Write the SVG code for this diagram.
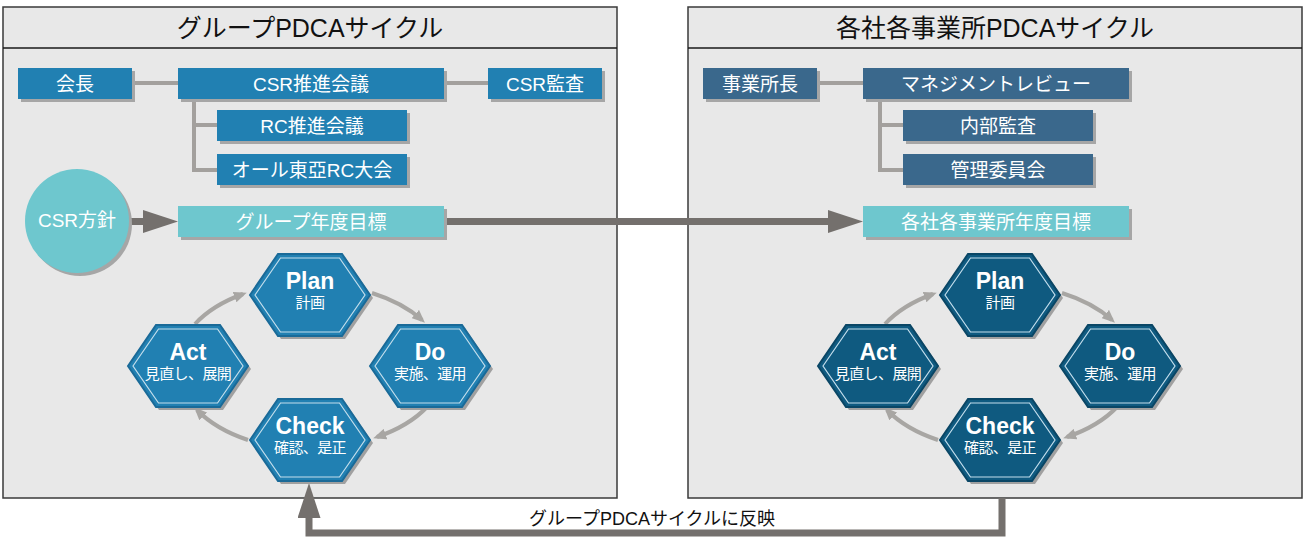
<svg xmlns="http://www.w3.org/2000/svg" xmlns:xlink="http://www.w3.org/1999/xlink" width="1304" height="537" viewBox="0 0 1304 537">
  <style>
    .panel { fill: #e8e8e8; stroke: #3a3a3a; stroke-width: 1.5; }
    .rule { stroke: #1a1a1a; stroke-width: 1.5; }
    .title { font-family: "Liberation Sans", "Noto Sans CJK JP", sans-serif; font-size: 25px; fill: #111; text-anchor: middle; }
    .shadow { fill: #a6a6a6; }
    .boxL { fill: #2180b2; }
    .boxR { fill: #3a688c; }
    .boxT { fill: #6ec7ce; }
    .label { font-family: "Liberation Sans", "Noto Sans CJK JP", sans-serif; font-size: 19px; fill: #fff; text-anchor: middle; }
    .org { stroke: #a3a09d; stroke-width: 4; fill: none; }
    .thick { stroke: #74706d; stroke-width: 7; fill: none; }
    .cycle { stroke: #a8a6a3; stroke-width: 4; fill: none; }
    .hexL { fill: #2180b2; stroke: #1a6a98; stroke-width: 2; }
    .hexR { fill: #0f5a80; stroke: #0a4665; stroke-width: 2; }
    .hexShadow { fill: #a0a0a0; }
    .hexLine { fill: none; stroke: #c4deec; stroke-width: 1.2; }
    .hexTitle { font-family: "Liberation Sans", "Noto Sans CJK JP", sans-serif; font-weight: bold; font-size: 23px; fill: #fff; text-anchor: middle; }
    .hexSub { font-family: "Liberation Sans", "Noto Sans CJK JP", sans-serif; font-size: 15px; letter-spacing: -0.6px; fill: #fff; text-anchor: middle; }
    .note { font-family: "Liberation Sans", "Noto Sans CJK JP", sans-serif; font-size: 18px; fill: #111; text-anchor: middle; }
  </style>
  <defs>
    <marker id="headThick" markerUnits="userSpaceOnUse" markerWidth="35" markerHeight="23" refX="5" refY="11.5" orient="auto">
      <path d="M0,0 L35,11.5 L0,23 z" fill="#74706d"/>
    </marker>
    <marker id="headCycle" markerUnits="userSpaceOnUse" markerWidth="13" markerHeight="11" refX="9" refY="5.5" orient="auto">
      <path d="M0,0 L13,5.5 L0,11 z" fill="#a8a6a3"/>
    </marker>
    <polygon id="hexShape" points="-60,0 -32,-41 32,-41 60,0 32,41 -32,41"/>
    <polygon id="hexInner" points="-55,0 -29.5,-37 29.5,-37 55,0 29.5,37 -29.5,37"/>
  </defs>

  <!-- panels -->
  <g id="panel-group">
    <rect class="panel" x="3" y="7" width="614" height="491"/>
    <line class="rule" x1="3" y1="48" x2="617" y2="48"/>
    <text class="title" x="310" y="37">グループPDCAサイクル</text>
  </g>
  <g id="panel-site">
    <rect class="panel" x="688" y="7" width="614" height="491"/>
    <line class="rule" x1="688" y1="48" x2="1302" y2="48"/>
    <text class="title" x="995" y="37">各社各事業所PDCAサイクル</text>
  </g>

  <!-- connectors -->
  <g id="connectors">
    <path class="org" d="M132,83 H178 M444,83 H488 M194,99 V170 H217 M194,125 H217"/>
    <path class="org" d="M817,83 H863 M880,99 V170 H903 M880,125 H903"/>
    <path class="thick" d="M129,221.5 H148" marker-end="url(#headThick)"/>
    <path class="thick" d="M444,221.5 H833" marker-end="url(#headThick)"/>
    <path class="thick" stroke-linejoin="miter" d="M1002,498 V533 H309 V513" marker-end="url(#headThick)"/>
    <path class="cycle" d="M195,324 A135,81 0 0 1 243,294" marker-end="url(#headCycle)"/>
    <path class="cycle" d="M372,293 A135,81 0 0 1 422,320" marker-end="url(#headCycle)"/>
    <path class="cycle" d="M427,407 A135,81 0 0 1 377,437" marker-end="url(#headCycle)"/>
    <path class="cycle" d="M248,440 A135,81 0 0 1 197,410" marker-end="url(#headCycle)"/>
    <path class="cycle" d="M885,324 A135,81 0 0 1 933,294" marker-end="url(#headCycle)"/>
    <path class="cycle" d="M1062,293 A135,81 0 0 1 1112,320" marker-end="url(#headCycle)"/>
    <path class="cycle" d="M1117,407 A135,81 0 0 1 1067,437" marker-end="url(#headCycle)"/>
    <path class="cycle" d="M938,440 A135,81 0 0 1 887,410" marker-end="url(#headCycle)"/>
  </g>
  <text class="note" x="652" y="525">グループPDCAサイクルに反映</text>

  <!-- group organisation -->
  <g id="chairman">
    <rect class="shadow" x="21" y="71" width="114" height="31"/>
    <rect class="boxL" x="18" y="68" width="114" height="31"/>
    <text class="label" x="75" y="90.5">会長</text>
  </g>
  <g id="csr-council">
    <rect class="shadow" x="181" y="71" width="266" height="31"/>
    <rect class="boxL" x="178" y="68" width="266" height="31"/>
    <text class="label" x="311" y="90.5">CSR推進会議</text>
  </g>
  <g id="csr-audit">
    <rect class="shadow" x="491" y="71" width="114" height="31"/>
    <rect class="boxL" x="488" y="68" width="114" height="31"/>
    <text class="label" x="545" y="90.5">CSR監査</text>
  </g>
  <g id="rc-council">
    <rect class="shadow" x="220" y="113" width="190" height="31"/>
    <rect class="boxL" x="217" y="110" width="190" height="31"/>
    <text class="label" x="312" y="132.5">RC推進会議</text>
  </g>
  <g id="rc-convention">
    <rect class="shadow" x="220" y="157" width="190" height="31"/>
    <rect class="boxL" x="217" y="154" width="190" height="31"/>
    <text class="label" x="312" y="176.5">オール東亞RC大会</text>
  </g>
  <g id="csr-policy">
    <circle cx="80" cy="224" r="52" class="shadow"/>
    <circle cx="77" cy="221" r="52" fill="#6ec7ce"/>
    <text class="label" x="77" y="227">CSR方針</text>
  </g>
  <g id="group-target">
    <rect class="shadow" x="181" y="209" width="266" height="31"/>
    <rect class="boxT" x="178" y="206" width="266" height="31"/>
    <text class="label" x="311" y="228.5">グループ年度目標</text>
  </g>

  <!-- group cycle -->
  <g id="plan-group" transform="translate(310,295)">
    <use xlink:href="#hexShape" class="hexShadow" transform="translate(3,3)"/>
    <use xlink:href="#hexShape" class="hexL"/>
    <use xlink:href="#hexInner" class="hexLine"/>
    <text class="hexTitle" y="-6">Plan</text>
    <text class="hexSub" y="13">計画</text>
  </g>
  <g id="do-group" transform="translate(430,366)">
    <use xlink:href="#hexShape" class="hexShadow" transform="translate(3,3)"/>
    <use xlink:href="#hexShape" class="hexL"/>
    <use xlink:href="#hexInner" class="hexLine"/>
    <text class="hexTitle" y="-6">Do</text>
    <text class="hexSub" y="13">実施、運用</text>
  </g>
  <g id="check-group" transform="translate(310,440)">
    <use xlink:href="#hexShape" class="hexShadow" transform="translate(3,3)"/>
    <use xlink:href="#hexShape" class="hexL"/>
    <use xlink:href="#hexInner" class="hexLine"/>
    <text class="hexTitle" y="-6">Check</text>
    <text class="hexSub" y="13">確認、是正</text>
  </g>
  <g id="act-group" transform="translate(188,366)">
    <use xlink:href="#hexShape" class="hexShadow" transform="translate(3,3)"/>
    <use xlink:href="#hexShape" class="hexL"/>
    <use xlink:href="#hexInner" class="hexLine"/>
    <text class="hexTitle" y="-6">Act</text>
    <text class="hexSub" y="13">見直し、展開</text>
  </g>

  <!-- site organisation -->
  <g id="site-head">
    <rect class="shadow" x="706" y="71" width="114" height="31"/>
    <rect class="boxR" x="703" y="68" width="114" height="31"/>
    <text class="label" x="760" y="90.5">事業所長</text>
  </g>
  <g id="management-review">
    <rect class="shadow" x="866" y="71" width="266" height="31"/>
    <rect class="boxR" x="863" y="68" width="266" height="31"/>
    <text class="label" x="996" y="90.5">マネジメントレビュー</text>
  </g>
  <g id="internal-audit">
    <rect class="shadow" x="906" y="113" width="190" height="31"/>
    <rect class="boxR" x="903" y="110" width="190" height="31"/>
    <text class="label" x="998" y="132.5">内部監査</text>
  </g>
  <g id="management-committee">
    <rect class="shadow" x="906" y="157" width="190" height="31"/>
    <rect class="boxR" x="903" y="154" width="190" height="31"/>
    <text class="label" x="998" y="176.5">管理委員会</text>
  </g>
  <g id="site-target">
    <rect class="shadow" x="866" y="209" width="266" height="31"/>
    <rect class="boxT" x="863" y="206" width="266" height="31"/>
    <text class="label" x="996" y="228.5">各社各事業所年度目標</text>
  </g>

  <!-- site cycle -->
  <g id="plan-site" transform="translate(1000,295)">
    <use xlink:href="#hexShape" class="hexShadow" transform="translate(3,3)"/>
    <use xlink:href="#hexShape" class="hexR"/>
    <use xlink:href="#hexInner" class="hexLine"/>
    <text class="hexTitle" y="-6">Plan</text>
    <text class="hexSub" y="13">計画</text>
  </g>
  <g id="do-site" transform="translate(1120,366)">
    <use xlink:href="#hexShape" class="hexShadow" transform="translate(3,3)"/>
    <use xlink:href="#hexShape" class="hexR"/>
    <use xlink:href="#hexInner" class="hexLine"/>
    <text class="hexTitle" y="-6">Do</text>
    <text class="hexSub" y="13">実施、運用</text>
  </g>
  <g id="check-site" transform="translate(1000,440)">
    <use xlink:href="#hexShape" class="hexShadow" transform="translate(3,3)"/>
    <use xlink:href="#hexShape" class="hexR"/>
    <use xlink:href="#hexInner" class="hexLine"/>
    <text class="hexTitle" y="-6">Check</text>
    <text class="hexSub" y="13">確認、是正</text>
  </g>
  <g id="act-site" transform="translate(878,366)">
    <use xlink:href="#hexShape" class="hexShadow" transform="translate(3,3)"/>
    <use xlink:href="#hexShape" class="hexR"/>
    <use xlink:href="#hexInner" class="hexLine"/>
    <text class="hexTitle" y="-6">Act</text>
    <text class="hexSub" y="13">見直し、展開</text>
  </g>
</svg>
